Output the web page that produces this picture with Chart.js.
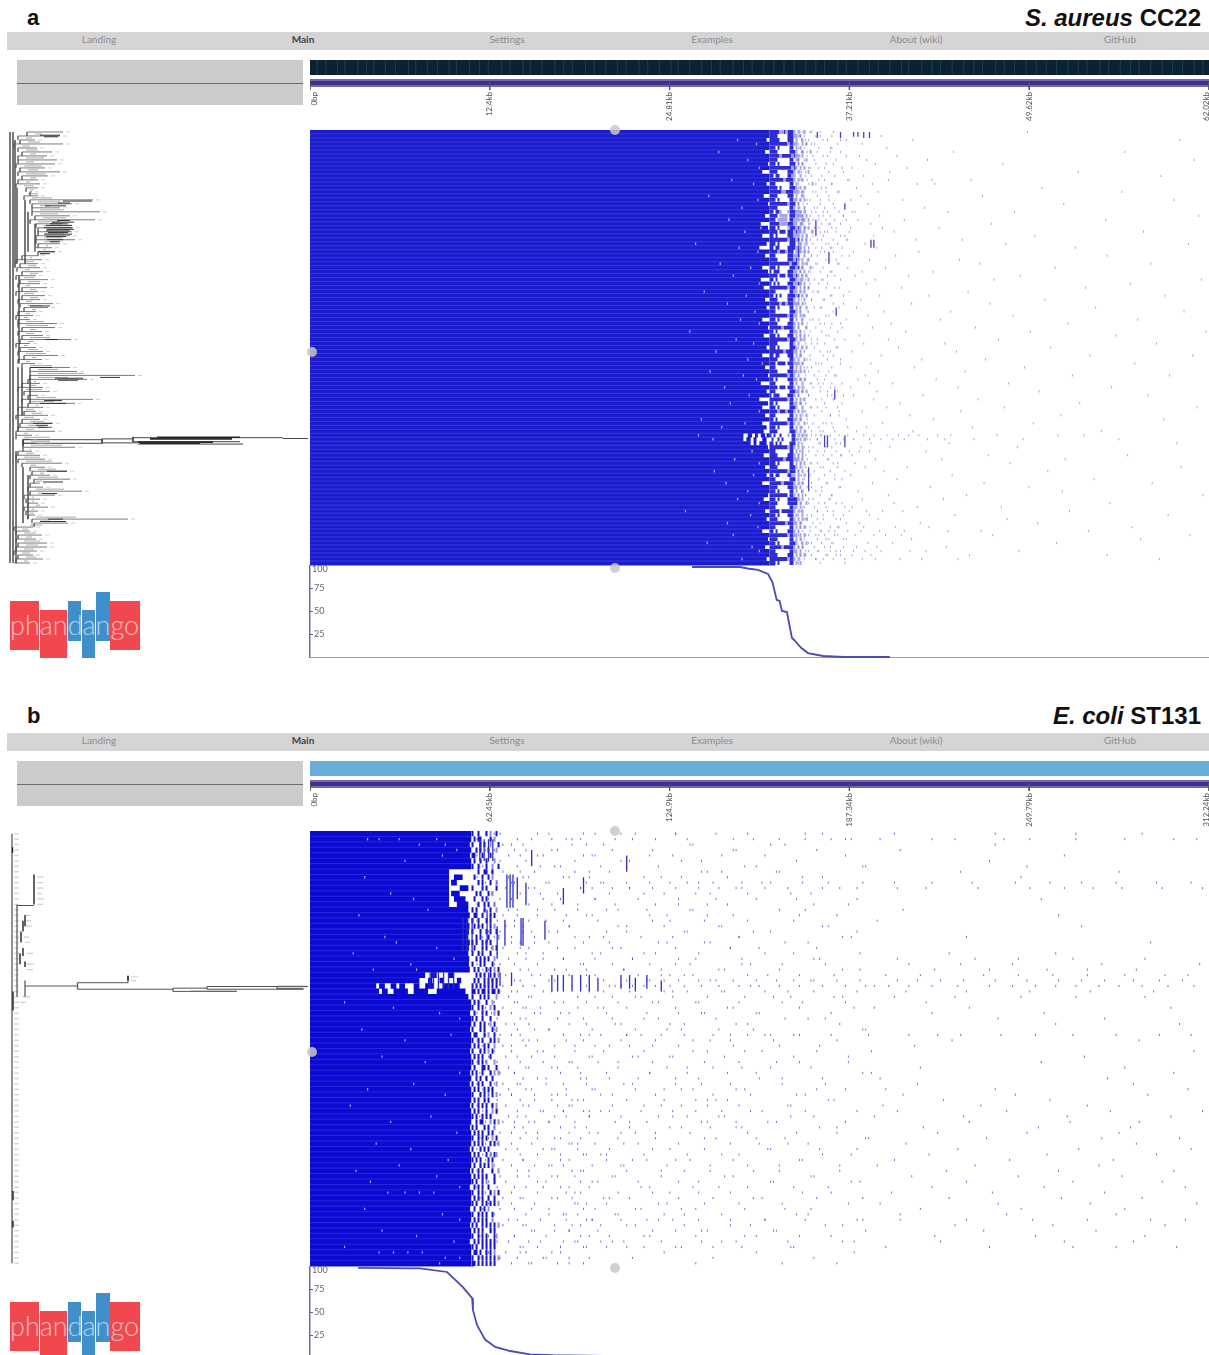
<!DOCTYPE html>
<html>
<head>
<meta charset="utf-8">
<title>phandango</title>
<script src="https://cdn.jsdelivr.net/npm/chart.js@4"></script>
<style>
html, body { margin: 0; padding: 0; background: #fff; }
body { position: relative; width: 1209px; height: 1355px; overflow: hidden; font-family: Lato, sans-serif; }
canvas { position: absolute; }
.box, .txt, .dot { position: absolute; }
.navtxt { font-size: 10px; color: #8c8c8c; transform: translateX(-50%); white-space: nowrap; }
.head { font-family: "Liberation Sans", Arial, sans-serif; font-weight: bold; color: #111; white-space: nowrap; }
.dot { width: 10px; height: 10px; border-radius: 50%; background: rgba(200,200,200,.85); }
.logo { font-weight: 300; font-size: 27px; color: rgba(255,255,255,.62); white-space: nowrap; }
</style>
</head>
<body>
<script>
// --- navigation and labels ---
const navLabels = ["Landing", "Main", "Settings", "Examples", "About (wiki)", "GitHub"];
const coverageTicks = [25, 50, 75];
const coverageTop = [100];

// --- panel a : S. aureus CC22 ---
const genomeKbA = 62.02;
const tickValuesA = [0, 12.4, 24.81, 37.21, 49.62, 62.02];
const tickLabelsA = ["0bp", "12.4kb", "24.81kb", "37.21kb", "49.62kb", "62.02kb"];
const geneEdgesA = [0.5,1.1,1.9,2.4,3.3,3.9,4.4,5.2,5.9,6.8,7.3,8.1,8.8,9.6,10.1,11,11.7,12.3,13.2,13.8,14.7,15.2,16,16.9,17.5,18.1,19,19.6,20.4,21.2,21.8,22.7,23.3,24.1,24.9,25.4,26.2,27,27.7,28.3,29.2,29.9,30.5,31.3,32,32.7,33.4,34.2,34.9,35.5,36.4,37,37.8,38.6,39.2,40,40.8,41.3,42.2,42.9,43.5,44.3,45.1,45.8,46.4,47.3,47.9,48.6,49.4,50.1,50.8,51.5,52.3,53,53.6,54.5,55.1,55.9,56.6,57.2,58,58.8,59.5,60.2,61,61.6];

const coverageKbA = [26.35,29.67,30.2,30.9,31.6,31.9,32.2,32.4,32.56,32.9,33.25,33.4,33.9,34.35,35.4,36.8,40];
const coveragePctA = [97.8,97.8,96.2,94.6,90.2,81.5,62,60.9,50,48.9,20.7,18.5,9.8,4.3,1.1,0,0];

// where the solid block stops on each row
const coreEndA = [31.7,31.7,31.5,31.7,31.7,31.4,31.7,31.7,31.6,31.7,31.2,31.7,31.7,31.5,31.7,31.7,31.3,31.7,31.6,31.7,31.7,31.4,31.7,31.1,31.6,31.7,31.2,31.7,31.5,31,31.7,31.4,31.7,31.7,31.2,31.6,31.7,31.1,31.7,31.3,31.7,31.7,31.4,31.7,31.5,31.7,31.7,31.2,31.7,31.6,31.7,31.3,31.7,31.7,31.5,31.7,31.2,31.7,31.7,31.4,31.7,31.6,31.7,31.1,31.7,31.5,31.7,31,31.6,31.2,31.7,31.4,31.7,31.2,31.5,31.3,29.9,29.9,30.4,31.6,31.7,31.3,31.7,31.7,31.4,31.7,31.5,31.7,31.2,31.7,31.7,31.6,31.3,31.7,31.7,31.4,31.7,31.5,31.7,31.7,31.2,31.7,31.6,31.7,31.4,31.7,31.7,31.5,31.7];

// presence matrix at the right edge of the block, one string per row, # full, + partial
const fringeStartA = 31.7;
const fringeStepA = 0.138;
const fringeA = [
"#####++#+###+.+..+....","####.....###++.+......","#####....###.+..+.....","#########+##++..+.+...",
"###.#.....##.+.+......","####......###+..+...+.","#####+#####+#++.+.....","####......##.++...+...",
"###.#.....###.+.+.....","###########+#+.+.+....","####.....###+.+....+..","##.##....##++..+......",
"#######+####+.+.+.....","###.......##.+.......+","####.#....###+.+.+....","######++####+++.+.....",
"####.....###.+..+.....","###.#.....##++.+.+....","#########+###.+.......","####......##+.+..+....",
"##.##+...+###+++.+....","####.++++.###++++.+...","###.+++++.##+++.++.+..","#####++++###++.++.....",
"###.#....+###+#+.+.+..","####.###.###+#++.+...+","##.#.....###+++.+.+...","#########+###+#.+.+...",
"###.#.....###.++..+...","##.##....####+#+.+....","####+###+###.+#+.+.+..","###......###++#..+....",
"####.....###+#+.+..+..","##########+###+.+.+...","###.#.....###+#.+...+.","#.###....###++.+.+....",
"####.###.###+#+.+.+...","##.#......###+.++..+..","#.#.#....###++#+.+....","#########+###+.+.+.+..",
"###.......##++.+.+....","##.#.#...####+#.+.+...","####.....###+.+..+....","#####+##+###+++.+.....",
"###.#.....##.+.+..+...","###.......###+.+......","#########+##++.+.+....","###.#.....##.+..+.....",
"####.....###+.+.+.....","######+#####+.+...+...","##.#......##++.+......","###.#....###.+.+.+....",
"#########+###+.+.+....","####......##+.+.......","###.#.....###+..+.+...","#######+####++.+......",
"##.##....###.+.+......","####......##+.+..+....","###.####.###+++.+.....","###.......##.+.+......",
"####.....###++.+.+....","#########+##+.+.......","##.#.....###++.+.+....","###.......##.+..+.....",
"####.###.###+.+.+.....","###.......###++.+.+...","#.###....###+.+.......","#########+##.+.+.+....",
"##.#......##++.+......","###.#.....###+..+.....","####+###+###+.+.+.....","###.......##.+.+..+...",
"##.#.....###++.+......","#########+##+.+..+....","###.#.....##.+.+......","####......###+.+.+....",
"#.#..#...+.##.+.+.+...",".#..#.#....##+.+.+....","##.#.#....###.+.......","#########+##+.+.+.....",
"###.......##.+..+.....","####.....###+.+.+.....","#######+####+++.+.....","###.#.....##.+.+.+....",
"####......###+.+......","#########+###.+.+.....","##.##....##++.+..+....","###.......###.+.......",
"######+#####+.+.+.....","####.....###++.+......","###.#.....##.+..+.....","#########.##+.+.+.....",
"###.#....#####+.+.....","####.....#####.+..+...","###.......##++.+......","#####.######+.+.+.....",
"###.#....###.+..+.....","####......##+.+.+.+...","########+###++.+......","###.......##.+.+.+....",
"##.#.....###+.+.......","#########+##++.+.+....","####......##.+.+......","###.#.....###+..+.+...",
"######+#####+.+.+.....","###.......##++.+......","####.....###.+.+.+....","#########+##+.+.......",
"###.#.....##.+.+......"
];

// small white gaps inside the block, [kb, row]
const holesA = [[29.5,2],[30.8,3],[28.2,5],[30.2,7],[31,9],[29.1,12],[30.6,13],[27.5,16],[30.9,17],[29.8,19],[28.9,22],[31.1,24],[30,25],[26.6,28],[29.6,29],[30.9,30],[28.3,33],[30.4,34],[29.2,36],[31,38],[27.2,40],[30.1,41],[28.8,43],[30.7,45],[29.7,47],[31,48],[26.2,50],[29.4,52],[30.6,53],[28,55],[30.2,57],[31.2,58],[27.6,60],[29.9,61],[30.8,62],[28.6,64],[30.3,66],[29,68],[31,70],[27,72],[30,73],[28.4,74],[26.8,76],[27.8,77],[30.5,80],[29.3,82],[31,83],[27.9,85],[30.6,86],[28.7,88],[30.2,90],[29.5,92],[31,93],[25.9,95],[30.4,96],[28.8,98],[30.9,99],[29.2,101],[27.4,103],[30.5,104],[31,105],[29.8,107]];
// patches that carry on past a shortened row
const patchesA = [[76,30.2,30.5],[76,30.7,30.9],[76,31.1,31.4],[76,31.5,31.7],[77,30.1,30.4],[77,30.6,30.8],[77,31.2,31.5],[78,30.6,30.8],[78,31,31.5]];
const columnsA = [[35,0,1.5],[36.6,0,1.5],[37.5,0,1.2],[37.8,0,1.2],[38.2,0,1.5],[38.6,0,1.5],[36.9,18,19.5],[38.7,27,29],[38.9,27,29],[36.2,64.5,67],[34.4,84,90],[35.5,76,79],[35.7,76,79],[36.9,76,79],[34.9,22,26],[35.8,30,33],[36.3,44,46]];

// light speckle just past the edge, one list per row
const haloA = [
[34.6,33.8,36.1],[35.2,34.1,33.7],[33.9,35.7,34.4,36.6],[34.8,34.2],[36,33.7,35.1],[34.3,35.9,34],
[33.8,35.4,34.7,37],[36.3,34.1],[34.9,33.7,35.6],[35.1,34.4,36.7],[33.9,34.2,35.8],[34.6,36.2],
[35.5,33.8,34.3,37.2],[34.9,36,33.7],[34.2,35.3],[33.9,34.7,36.4,35.6],[35,34.1],[33.8,35.8,34.5],
[36.1,34.3,33.7,35.2],[34.8,35.5],[33.9,34.2,35.4,36.5,34.9,37.4],[35.1,33.7,36.8,34.5,35.9],[34,36.2,34.7,35.6,33.8,37],[35.3,34.4,33.9,36.6,35.8],
[34.2,36,35.1,33.7,34.8,37.3],[35.7,34,36.3,34.6,35.2],[33.8,34.9,36.9,35.4,34.3],[36.1,35,33.9,34.5,37.1],[34.7,35.6,34.1,36.4,33.7],[35.3,33.9,36.7,34.4,35.9,34.9],
[34.2,36.1,35.5,33.8],[35,34.6,37.2],[33.7,35.8,34.3,36.3],[34.9,36.5,34.1],[35.4,33.9,34.7],[36,34.4,35.2,33.8],
[34.2,35.7],[33.7,34.8,36.6,35.3],[35.1,34.5,33.9],[36.2,34.1,35.6],[34.7,33.8,35],[35.9,34.3,36.8],
[33.9,35.4,34.6],[34.2,36.1,33.7],[35.2,34.8,36.5],[33.8,34.4],[35.6,34,36.3],[34.7,33.9,35.1],
[36,34.3,35.5],[33.7,34.9,36.7],[34.5,35.3,34.1],[35.8,33.8],[34.6,36.2,35,33.9],[34.2,35.5],
[33.7,36.4,34.8],[35.2,34.1,35.9],[34.5,33.9,36.1],[35.7,34.3],[33.8,34.9,35.3,36.6],[34.6,36,34.1],
[35.1,33.7,34.4],[36.3,34.8,35.6],[34.2,33.9,35],[35.4,36.7,34.5],[33.8,34.7,35.9],[35.2,34,36.2],
[34.4,33.7,35.7,36.8],[34.9,36.1],[33.9,35.5,34.2],[36.4,34.6,35],[33.7,35.3,34.1],[34.8,35.9,36.5],
[34.3,33.8],[35.6,34.7,36],[33.9,35.1,34.4,37.1],[36.2,34.2,35.4],[33.5,34.9,34.1,35.3,33.8],[34.5,33.6,35.7,34.2,35],
[33.9,35.2,36.3],[34.7,36,34.1],[35.5,33.8,34.4],[36.6,34.9,33.7],[34.3,35.7],[35,33.9,36.1,34.6],
[34.2,35.4,36.4],[33.7,34.8,35.9],[36.2,34.5,33.9],[35.1,34,36.7],[34.6,33.8,35.6],[35.3,36.5,34.3],
[33.9,34.9],[36,34.2,35.2,33.7],[34.7,35.8,34.4],[35.5,33.9,36.3],[34.1,36.9,34.8],[33.8,35,35.7],
[36.1,34.6,33.7],[34.3,35.4,36.6,35],[33.9,34.7,37],[35.9,34.2,36.4,34.9,33.8],[34.5,35.2,35.8],[36.2,33.7,34.4,35.5,34.9],
[34.1,35.6,36.8,35],[33.9,36,34.6,35.3],[34.8,33.7,35.9],[36.3,34.4,35.1],[34.2,35.7,33.8,36.6],[35.4,34.9,36.1,34.1],
[33.7,35.2,36.9]
];
// sparse marks further along the genome, one list per row
const sparseA = [
[34,34.5,35.2,49.5],[33.8,34.9,36,39.4],[34.2,35.4,37,41.6,60],[33.7,34.6,36.4,38.1],[34.1,35.9,39.8],[33.9,35,36.6,44.4,56.2],
[34.3,35.7,37.9,40.5],[33.7,34.8,38.4,42.6,61],[34,36.1,39,47.8],[34.5,35.5,37.4,41.2],[33.8,36.8,40,53],[34.2,35.3,38.2,58.7],
[33.9,35.1,37.1,39.9,42.9,45.6],[34.4,36,38.8,41.9,43.1],[33.7,35.6,37.7,50.5],[34.1,34.9,36.5,39.2,56],[33.9,35.8,38,46.4],[34.3,35.2,37.3,40.9,59.6],
[34,36.9,38.5,52],[33.8,35,36.2,42.4],[34.6,35.7,37.6,44,48.6],[34,35.4,36.8,39.3,61.3],[33.9,35.1,37.8,41,54.9],[34.5,35.9,38.7,47],
[34.1,36.3,39.5,43.4],[33.8,35.5,37.2,40.3,57.5],[34.7,36.6,38.9,50],[34.2,35.3,37,41.8,45],[33.9,35.8,38.3,48,60.6],[34.4,36,39.1,52.8],
[34,35.2,37.5,42],[34.6,36.7,40.4,55],[33.8,35.6,38.6,44.8],[34.3,35,36.4,46.2,58],[34,37.1,39.7,51.4],[34.5,35.9,38.1,43],
[33.9,36.2,37.6,41.3,49],[34.2,35.4,39,47.2,61.5],[33.8,35.7,38.4,56.6],[34.4,36.5,40.8,53.5],[34,35.1,37.2,45.4],[33.9,36,39.3,42.7,59],
[34.6,35.5,38,50.7],[34.1,36.8,41.5,46.9],[33.8,35.3,37.7,54.2],[34.3,36.1,39.6,44.2,60.3],[34,35.8,38.5,48.5],[34.5,37,43.5,57.1],
[33.9,35.2,36.6,40.1,52.3],[34.2,35.9,38.8,45.9],[33.8,36.4,41.1,49.7,61.8],[34.4,35.6,37.9,55.6],[34,36.9,39.9,47.5],[34.6,35,38.2,43.8,58.4],
[33.9,36.3,40.6,51.1],[34.1,35.7,37.4,44.6],[33.8,35.4,39.4,53.8,60.9],[34.5,36.6,42.2,46.6],[34,35.1,38.7,56.9],[34.3,37.3,41.7,49.3],
[33.9,35.8,39.2,45.2],[34.2,36.2,38.3,52.6,59.3],[33.8,35.5,37.8,43.2],[34.6,35.1,36,38.6,40.2,48.2],[34.1,35.2,36.2,37.3,44.7,55.3],[33.9,35.7,36.4,39.1,50.3],
[34.4,36,37.5,42.3,57.8],[34,35.3,38.9,46.1],[33.8,36.7,40.7,53.1],[34.5,35.6,39.8,47.9,61.2],[34.2,36.5,38.1,44.9],[34,35.9,41.4,51.8],
[33.9,37,43,58.9],[34.3,35.4,39.5,49.9],[34,36.1,38.4,45.7],[34.6,35.2,37.7,41.6,54.6],
[33.4,34,34.6,35.2,35.9,36.5,37.1,38.2,38.9,39.8,40.6,41.3,42,43.3,44.2,47.4,51.6,53.4],[33.7,34.3,35,35.5,36.2,36.8,37.5,38.6,39.4,40.2,41,42.6,43.8,45.8,49.2,55.8],
[34,35.1,36.6,38.7,44.1,59.8],[34.4,35.6,38,40,48.8],[33.8,35,36.3,37.2,37.9,38.6,42.5],[34.2,35.4,36,36.7,37.4,46.8,56.4],
[33.9,35.8,39,43.6,52.1],[34.5,36.4,37.6,48.3],[34,35.2,38.3,41.2,60.1],[34.3,36.9,39.6,50.9],[33.8,35.5,37.3,44.3],[34.1,36.2,40.5,54.1],
[34,35.7,38.8,46.5,58.1],[34.6,36.6,42.8,49.6],[33.9,35.3,37.8,51.9],[34.2,36,39.9,45.3,61.6],[33.8,35.9,38.1,43.7],[34.4,35.1,36.7,40.3,55.2],
[34,35.6,37.4,41.9,47.7],[33.9,35,36.1,37.2,38.4,39.5,40.9,52.4],[34.3,35.4,36.8,38.6,44.5,59.2],[34.1,36.3,39.2,48.1],[33.8,35.2,37.9,42.1,50.2],[34.5,36.5,38.2,40.4,42.7,56.7],
[34,35.3,36.2,37.1,38,39.3,41,44,46.3,53.7],[34.2,35.1,36.4,37.6,38.9,39.7,40.8,47.1,60.7],[33.9,35.8,37,41.5,57.3],[34.4,36.1,38.5,40.2,51.5],[34,35.5,36.8,37.7,39.1,43.9],[34.2,35,35.9,36.6,37.5,38.3,39.4,41.4,42.5,48.9],
[34.6,35.6,36.3,37.4,38.7,45.5,55],[33.8,34.9,36.9,38.1,39,40.7,42.2,44.7,58.6]
];

// tree tips, distance from the left of the tree panel, one per row
const tipStartA = [27,18,20,14,18,22,18,18,16,20,18,22,18,16,26,30,24,30,32,32,32,35,30,36,38,38,36,36,38,35,38,22,16,20,17,22,16,20,18,22,16,22,18,20,24,18,16,18,18,22,18,22,20,16,20,18,24,18,22,30,30,30,28,22,18,24,28,22,28,18,24,16,22,20,18,16,16,23,23,23,18,16,18,22,30,32,30,34,30,28,30,24,26,28,24,26,28,32,34,14,16,18,16,18,16,14,18,16,14];
const tipEndA = [63,60,35,63,37,52,47,57,55,45,60,48,38,40,38,32,38,93,72,60,100,70,95,62,73,72,70,75,60,52,55,38,42,38,40,43,36,48,40,47,38,45,40,53,48,36,33,30,57,55,42,43,71,30,36,43,58,42,35,70,77,135,87,40,43,50,38,93,75,43,36,48,40,53,45,55,32,30,36,75,32,40,45,62,45,67,50,70,40,43,82,55,40,38,48,38,35,128,68,33,30,42,36,47,47,37,33,43,30];
// side branches sitting between the rows
const tipMidEndA = [42,32,40,30,38,36,44,34,42,38,46,36,30,34,30,28,52,60,50,64,58,66,60,70,68,64,62,58,48,46,40,32,34,36,30,38,34,40,30,36,34,38,32,42,36,30,28,44,48,36,34,50,34,28,38,46,36,30,52,58,84,68,34,36,42,32,56,54,38,34,42,34,44,36,34,28,50,50,62,30,34,40,52,36,56,44,58,36,38,64,44,34,32,40,34,30,76,50,30,28,36,32,40,38,34,30,36,28];
// darker, densely overplotted runs of branches, [row, from, to]
const denseA = [[0.8,40,60],[1.2,44,58],[17.3,63,92],[17.8,58,70],[18.5,45,66],[22.2,57,70],[22.6,52,74],[23,50,68],[23.4,46,72],[24,44,72],[24.4,47,74],[24.8,46,70],[25.2,48,68],[25.6,44,72],[26.2,46,66],[27,47,63],[27.5,50,60],[30,38,55],[30.5,40,50],[43.6,30,50],[52,45,58],[59,30,52],[61.5,100,120],[61.7,55,83],[62.2,58,78],[67.3,44,62],[68,40,66],[73,33,52],[73.5,36,48],[74,38,52],[85,47,67],[87.7,43,63],[90.6,42,57],[97,48,63],[97.6,40,66]];
const cladesA = [[10,0,108],[13,0,108],[15,2,34],[17,14,33],[25,17,33],[28,20,30],[35,23,29],[19,36,58],[18,59,75],[22,59,71],[30,61,68],[16,80,108],[23,84,98],[28,86,97]];
const longBranchA = [[77.1,23,102],[78,23,102],[76.9,102,133],[77.9,102,138],[76.6,133,283],[76.8,283,308],[77.6,133,240],[78.2,138,243]];
const longDenseA = [[76.5,157,240],[76.9,150,232],[77.7,138,213],[78,140,200]];
const longCladesA = [[23,77.1,78.6],[102,76.9,78],[133,76.4,77.7]];

// --- panel b : E. coli ST131 ---
const genomeKbB = 312.24;
const tickValuesB = [0, 62.45, 124.9, 187.34, 249.79, 312.24];
const tickLabelsB = ["0bp", "62.45kb", "124.9kb", "187.34kb", "249.79kb", "312.24kb"];

const coverageKbB = [16.7,38.2,47.6,53.1,56.3,56.6,58,60.8,64.3,69.5,76.4,84.4,107.7,146];
const coveragePctB = [98,97.5,93.5,77,65,52,36,20,12,7.6,4,3,2,1.5];

const coreEndB = [56,56,55.5,56,55.6,56,56,48.3,48.3,48.3,48.3,48.3,48.3,48.3,55,55.5,55,55.4,55.2,55,55.5,55.2,55,55.3,55.2,55.5,40,38,23,24,55,56,56,55.6,56,56,55.6,56,56,56,55.6,56,56,56,55.6,56,55.5,56,56,56,55.6,56,56,56,55.6,56,56,56,55.5,56,56,56,55.6,56,56,55.5,56,56,56,55.6,56,56,55.6,56,56,55.5,56,56,56,56];
const fringeStartB = 56.1;
const fringeStepB = 0.695;
const fringeB = [
"#..#...#.+..#.",".#.##....#.+..","#...#.#..+...#","..#.#...#...+.","##...#...#....",".#..#..#...+..",
"#..#...#..+..#","...#..##..#...",".#...#..#.+...","...#.#...#..+.","#....#.#....#.","..#.#...#.+...",".#...#.#......","...#..#.#..+..",
"#.#...#..#..+.",".##..#...#.#..","#..#...#.#....",".#.#.#...#.+..","#...#..#.#..#.","..#.#...#....+","#.#..#.#.#....",".#...#.#..+.#.","#..#.#...#....","..#.#.#.#..+..",
"#...#.#...#...",".#.#...#.#.+.#","..#.#.#..#.#.+",".#.#..#.#.#.#.","#.#.#.#.#.#.#.","##.#.##.#.##.#",
"#...#.#.#...+.",".#.#...#..+...","#..#.#...+.#..",".#...#.#...+.#","#.#..#...#....",".#..#.#..+.#..",
"#...#.#...#.+.",".##...#.+..#..","#..#.#...#.#.+",".#.#..#.#..+..","#...#.#.+.#...",".#.#.#...#....",
"#..#.#.+...+..",".#...##.#...#.","#.#..#...#.+.+","..#.#..#..#...","#..#.#...#..+.",".#.#..#.#.#...",
"#...#.#.+.#.+.",".#.#..#.#.....","#..#.#.#..#.+.",".#.#...#..+.#.","#.#..#.#.#....","..#.##...+.#.+",
"#.#...#.#..+..",".#.#.#..#.#...","#..#.#.#..+.#.",".#.#.#...#.#.+","#...#.#.#.....",".#.#...#.+.#+.",
"#.#.#...#.#...",".#..#.#.#.+...","#..#.#....#..+",".#.#.#.#...#..","#.#..#.+...#..",".#.#.#..#.....",
"#..#.#...#.+.#",".#.#.#..#..#..","#.#..#.#.#.#.+",".#..#.#.+.....","#..#.#.#..#...",".#.#.#.#..+...",
"#.#..#.#.#.#.+",".#.#.#...#.#..","#..#.#.#...#+.",".#.#.#.#.#.#..","#.#..#.#.#.#..",".##.#..#.#.+..","#..#.#.#.#.#.+","##.#.#.#.#.#.."
];
const holesB = [[20,1],[24,1],[31,1],[38,2],[44,1],[47,2],[51,3],[33,5],[19,8],[46,4],[28,11],[36,12],[17,15],[41,14],[26,19],[30,20],[44,21],[15,22],[35,24],[50,23],[22,25],[37,25],[48,26],[12,31],[29,32],[45,33],[52,34],[18,36],[33,38],[49,37],[25,41],[40,42],[52,44],[20,47],[36,46],[47,48],[14,50],[28,53],[42,52],[51,55],[23,57],[35,58],[48,60],[16,62],[31,61],[44,63],[52,65],[21,64],[27,66],[33,66],[38,66],[43,66],[19,69],[46,70],[52,71],[25,73],[37,74],[50,75],[12,76],[24,77],[29,77],[34,77],[39,77],[47,78],[52,78],[45,79]];
const patchesB = [[28,24,26],[28,28,30],[28,31,33],[28,36,38],[28,40,43],[28,46,52],[29,25,27],[29,29,34],[29,36,41],[29,44,54],[26,42,44],[27,41,42.5],[27,45,46.5],[26,48,50],[27,51,52.5],[8,50,53],[9,49,51],[10,52,55],[11,49,52],[12,50,54],[13,51,55]];
const columnsB = [[68.4,7.5,13.6],[69.5,7.5,13.6],[70.5,7.5,13.6],[67.7,15.8,20.6],[73.3,15.5,20.6],[74,15.5,20.6],[65,17,23],[54.5,15.5,21.7],[53.1,15.5,21.7],[56.3,15.5,21.7],[61.5,14,20],[59,1,5],[60.5,1,5],[62,1,5],[63.5,1,5],[81.6,16,19.5],[41.7,25.5,28.5],[42.9,25.5,28.5],[44.6,25.5,28.5],[46.4,25.5,28.5],[48.1,25.5,28.5],[49.9,25.5,28.5],[62,25.5,28],[66,25.5,28],[70,25.5,28],[84,26,29],[86,26,29],[88,26,29],[91,26,29],[94,26,29],[97,26,29],[100,26.5,29],[108,26,28.5],[111,26,28.5],[117,26,28.5],[113,26.5,29],[122,27,29],[72,8,12],[75,9,13],[77,3,6],[88,10,13],[95,8,11],[110,4,7]];

// denser dots close to the edge
const haloB = [
[61,66,64,79],[63,58,72,84,91],[59,70,67],[64,75,61,86],[58,69,81,73,95],[62,66,77],
[60,72,85,59],[67,63,78,92],[58,74,69,88],[65,61,83,71],[60,76,94,68],[59,63,80,73],
[66,62,70,87],[58,75,84,64],[61,69,79,93],[63,72,60,89,67],[65,58,76,82],[59,71,68,90],
[62,74,86,66],[60,64,78,97],[58,70,83,73,61],[67,63,92,76],[59,65,81,72],[61,69,88,75],
[64,58,79,95,66],[60,73,85,62],[68,59,77,90],[63,71,83,65],[58,61,74,67,88],[60,66,72,81],
[62,69,93,76],[59,64,85,71],[61,75,80,67],[58,63,78,90,70],[65,60,86,73],[62,68,76,96],
[59,72,83,64],[61,70,88,66],[58,74,79,63],[67,60,92,75],[64,59,81,70],[62,77,85,68],
[58,65,73,91,61],[60,69,84,76],[63,59,71,87,66],[61,79,74,94],[58,67,64,82,72],[60,75,89,69,63],
[62,59,70,78,86,66],[65,61,73,84,93],[58,68,76,90,63],[60,72,81,65,88],[63,59,75,69,97],[61,67,83,71,78],
[58,64,74,87],[60,70,79,66],[62,59,85,73],[65,77,91,61],[58,68,72,84],[60,63,79,95],
[61,74,67,87],[59,70,83,64],[63,58,76,91],[60,72,66,86],[62,79,68,94],[58,65,75,81],
[61,70,89,63],[59,73,84,67],[62,58,78,92],[60,66,71,83],[64,75,59,88],[61,69,80,96],
[58,67,74,85],[60,63,77,90],[62,71,59,82],[65,60,69,93,76],[58,64,73,87,79],[61,68,84,62,75],[59,66,72,90,81],[63,60,70,77,86,95]
];
// second band of dots, thinning out to the middle of the genome
const midB = [
[83,127,95,141,172],[77,112,154,89,181],[91,74,133,165,102],[84,119,147,71,176],[98,126,79,158,186],[75,108,136,92,169],
[87,121,80,151,193],[73,104,143,97,162],[90,129,76,116,178],[82,135,101,157,70],[94,111,78,148,184],[72,123,86,167,139],
[99,81,114,155,190],[76,128,93,145,175],[85,107,72,163,132],[79,138,96,118,170],[88,71,125,152,197],[74,110,90,143,180],
[83,131,77,160,103],[92,115,70,149,188],[78,124,95,137,173],[86,105,73,156,146],[75,120,98,168,191],[81,134,88,112,177],
[71,127,94,150,164],[89,109,76,142,185],[96,122,80,159,130],[73,139,85,117,174],[91,106,78,153,196],[84,126,70,144,166],
[77,113,99,161,182],[88,135,72,121,171],[74,102,93,147,189],[80,128,87,155,137],[95,116,75,165,179],[71,130,90,108,152],
[83,142,78,124,192],[97,110,73,158,168],[76,133,89,146,183],[85,119,70,163,104],[79,138,92,151,176],[72,125,98,114,187],
[90,107,81,149,170],[75,131,86,160,140],[94,118,71,145,195],[82,127,96,156,178],[73,112,88,164,136],[99,123,77,148,186],
[84,105,70,153,172],[78,134,91,141,180],[86,116,74,167,129],[95,101,80,157,190],[72,126,89,144,175],[83,111,76,162,138],
[92,129,71,150,183],[75,120,97,108,169],[87,137,79,155,193],[70,114,93,146,166],[81,125,85,159,177],[96,103,73,143,188],
[74,132,90,117,171],[88,109,78,152,184],[72,139,94,122,163],[84,106,76,147,174],[98,128,82,160,191],[71,115,87,142,168],
[79,135,92,119,181],[86,104,74,154,176],[93,124,70,149,187],[77,113,95,165,134],[83,130,89,107,173],[72,121,98,158,192],
[91,110,75,146,179],[78,136,85,161,127],[94,118,71,151,170],[80,105,88,143,185],[74,129,96,116,167],[87,123,73,155,189],[97,112,82,140,175],[76,134,90,164,183]
];
const sparseB = [
[108,99,127,113,152,178,203,238,266,289],[106,94,120,131,147,163,172,186,188,198,216,224,241,250,266,283,300,308],
[96,132,160,238],[148,105,205],[118,143,99,262],[129,111,236],
[155,101,192,249],[136,138,163,226,281],[122,145,171,97,247],
[102,96,110,118,125,131,140,150,160,171,180,192,203,216,230,245,257,268,280,294,306],[105,98,111,119,127,135,142,150,158,166,178,190,204,214,232,250,262,272,282,296,310],
[116,104,134,152,174],[128,141,99,169,254],[106,138,120,187],[103,133,117,172,206],
[124,98,147,183,260],[119,100,137,168],[142,107,123,178,268],[130,110,154,190],
[102,149,126,185,228],[121,104,139,165,292],[146,108,176,127],[116,101,135,158,222,259],
[112,99,128,150,175,204,231,265,290,246],[105,118,132,153,179,208,244,275,309,226],[109,96,144,122,163,191,217,256,287,236,270],
[125,99,133,152,170,182,212,234,258,283,305,114,200,246,270,297],[102,97,110,118,128,135,141,147,155,162,168,183,191,204,211,227,238,249,268,276,286,295,303,123,175,219,260],
[96,104,108,112,116,120,125,130,136,142,149,156,163,170,178,186,193,201,208,216,225,236,244,252,259,266,274,281,289,298,307],[102,111,123,131,143,158,175,190,207,228,250,271,293,97],
[105,115,126,138,151,167,185,203,224,247,266,290],[107,96,119,134,149,164,214,186],[110,100,127,145,170,196,229,299],
[103,117,136,156,181,216,255],[121,105,141,173,239,276],[106,125,148,184,259,302],[113,129,98,154,193],
[101,94,110,115,122,130,140,146,152,160,170,181,194,208,218,226,240,252,265,280,295,306],[108,120,95,139,161,223,288],
[111,99,128,147,177,210],[116,102,133,157,195,307],[112,126,97,144,168,269],[119,100,137,162,187,254],
[107,124,93,150,174,212,283],[118,103,131,155,192,300],[114,104,135,164,198,277],[109,96,127,146,179,211,286],
[98,113,129,151,176,200,238,305,133],[101,120,140,169,206,245,89,291],[110,95,123,145,182,220,257,138],[122,105,91,166,138,199,233,270,149],
[115,104,126,134,143,153,172,204,242,278,310,88,97],[121,108,142,97,167,196,227,263,299,131,85],[117,136,106,159,186,229,264,92,288,148],[125,111,96,148,177,213,253,285,139],
[113,100,132,152,183,218,249,90,281],[107,120,141,94,165,194,235,275,302],[109,99,128,156,173,207,287,90],[119,137,104,93,160,190,225,267,306],
[101,116,131,149,87,178,215,256,294],[127,112,103,147,170,203,243,279],[108,124,98,139,163,197,231,274,84],[130,110,95,154,184,221,260,300],
[105,122,144,92,175,209,246,282],[114,135,100,161,188,228,265,296],[118,97,133,152,180,216,255,304,90],[125,107,94,146,171,202,237,276],
[111,102,128,140,157,192,222,261,289,91],[121,103,137,96,164,198,239,271,308],[115,99,129,151,174,212,247,283],[123,106,93,143,169,205,242,280],
[108,98,117,126,135,146,158,172,190,205,228,251,270,292,304,89],[113,101,130,94,153,185,224,258,297],[100,119,138,162,193,234,273,90],[116,104,134,97,155,181,217,252,290],
[109,101,122,136,148,166,189,219,262,286,92],[103,110,95,127,140,150,168,200,236,265,280,301]
];

// tree b
const treeSegmentsB = [[13.2,17,34],[28,25,77.5],[27.4,77.5,128],[28.6,77.5,173],[28.4,173,207],[29,173,237],[28.1,207,277],[28.6,207,304],[28.1,277,308]];
const treeDenseB = [[28.1,277,307],[28.5,277,303],[29,190,237]];
const treeCladesB = [[12,0,79],[17,13,30],[25,27,30],[77.5,27.4,28.6],[128,26.1,27.4],[173,28.4,29],[207,28.1,28.6],[277,28,28.5]];
const treeDarkB = [[12.5,2.5,3.5],[13,29,32.5],[13,65.7,67.4],[13,71.2,72.4],[34,7.5,13],[25,15,17],[23,16,18],[21,18,20],[23,21,22.5],[20,22,24],[25,23.5,24.5],[128,26.1,27]];
const treeLabelsB = [[8,37,44],[9,37,43],[10,37,44],[11,37,42],[12,37,44],[13,37,43],[15,24,30],[16,25,31],[17,26,32],[19,24,29],[20,25,30],[22,27,33],[24,26,34],[25,27,33],[26.3,131,138],[27,131,136],[30,22,30],[31,20,26]];

// --- helpers ---
function rowSegments(rows) {
  // [row, from, to] to line points with a break after each run
  const pts = [];
  rows.forEach(([r, a, b]) => pts.push({ x: a, y: r }, { x: b, y: r }, { x: null, y: null }));
  return pts;
}

function colSegments(cols) {
  const pts = [];
  cols.forEach(([x, a, b]) => pts.push({ x: x, y: a }, { x: x, y: b }, { x: null, y: null }));
  return pts;
}

function fringeRuns(rows, start, step, ch) {
  const runs = [];
  rows.forEach((str, r) => {
    let i = 0;
    while (i < str.length) {
      if (str[i] !== ch) { i++; continue; }
      let j = i;
      while (j < str.length && str[j] === ch) j++;
      runs.push([r, start + i * step, start + j * step]);
      i = j;
    }
  });
  return runs;
}

function lineSet(data, color, width) {
  return { data, borderColor: color, borderWidth: width, showLine: true, spanGaps: false, pointRadius: 0, tension: 0, borderCapStyle: "butt" };
}

function markSet(data, color, radius, width) {
  return { data, showLine: false, pointStyle: "line", pointRotation: 90, pointRadius: radius, pointBorderWidth: width, pointBorderColor: color, pointBackgroundColor: color };
}

function flatRows(rows) {
  return rows.flatMap((xs, r) => xs.map((x) => ({ x, y: r })));
}

function addCanvas(left, top, width, height) {
  const c = document.createElement("canvas");
  c.width = width;
  c.height = height;
  c.style.left = left + "px";
  c.style.top = top + "px";
  c.style.width = width + "px";
  c.style.height = height + "px";
  document.body.appendChild(c);
  return c;
}

function addBox(left, top, width, height, color) {
  const d = document.createElement("div");
  d.className = "box";
  d.style.cssText = `left:${left}px;top:${top}px;width:${width}px;height:${height}px;background:${color}`;
  document.body.appendChild(d);
}

function addText(html, cls, css) {
  const d = document.createElement("div");
  d.className = "txt " + cls;
  d.style.cssText = css;
  d.innerHTML = html;
  document.body.appendChild(d);
}

function addDot(x, y) {
  const d = document.createElement("div");
  d.className = "dot";
  d.style.left = x - 5 + "px";
  d.style.top = y - 5 + "px";
  document.body.appendChild(d);
}

const baseOptions = { responsive: false, animation: false, events: [], plugins: { legend: { display: false }, tooltip: { enabled: false } } };

function hiddenScale(min, max, reverse) {
  return { type: "linear", display: false, min, max, reverse: !!reverse };
}

// --- chart pieces ---
// datasets are listed bottom layer first, Chart.js paints the first one on top so they get reversed
function drawTracks(dy, kb, tickVals, tickLabels, stripColor, edges) {
  const top = dy + 58;
  const sets = [lineSet([{ x: 0, y: 7.5 }, { x: kb, y: 7.5 }], stripColor, 15)];
  if (edges) sets.push(lineSet(colSegments(edges.map((e) => [e, 0, 15])), "rgba(35,65,80,.45)", 1));
  sets.push(lineSet([{ x: 0, y: 23 }, { x: kb, y: 23 }], "#7566b4", 8));
  sets.push(lineSet([{ x: 0, y: 23 }, { x: kb, y: 23 }], "#3f3088", 4));
  sets.push(lineSet(colSegments(tickVals.map((t) => [t, 22, 30])), "#555", 1));
  const labelSpots = tickVals.slice();
  labelSpots[0] = kb * 0.005;
  labelSpots[5] = kb * 0.997;
  new Chart(addCanvas(300, top, 909, 72), {
    type: "scatter",
    data: { datasets: sets.reverse() },
    options: {
      ...baseOptions,
      layout: { autoPadding: false, padding: { left: 10, top: 2, right: 0, bottom: 0 } },
      scales: {
        y: hiddenScale(0, 30, true),
        x: {
          type: "linear", min: 0, max: kb, position: "bottom",
          border: { display: false }, grid: { display: false, drawTicks: false },
          afterBuildTicks: (s) => { s.ticks = labelSpots.map((v) => ({ value: v })); },
          afterFit: (s) => { s.height = 40; s.paddingLeft = 0; s.paddingRight = 0; },
          ticks: {
            autoSkip: false, minRotation: 90, maxRotation: 90, padding: 2,
            font: { family: "Lato", size: 8 }, color: "#555",
            callback: (v, i) => tickLabels[i],
          },
        },
      },
    },
  });
}

function drawHeat(dy, d) {
  const color = d.color;
  const sets = [
    lineSet(rowSegments(d.coreEnd.map((e, r) => [r, 0, e])), color, d.rowWidth),
    lineSet(rowSegments(d.coreEnd.slice(0, -1).map((e, r) => [r + 0.5, 0, Math.min(e, d.coreEnd[r + 1])])), d.stripe, 1),
    lineSet(rowSegments(fringeRuns(d.fringe, d.fringeStart, d.fringeStep, "#")), d.fringeColor, d.rowWidth - 0.4),
    lineSet(rowSegments(fringeRuns(d.fringe, d.fringeStart, d.fringeStep, "+")), d.light, d.rowWidth - 0.4),
    lineSet(rowSegments(d.patches), color, d.rowWidth),
    markSet(d.holes.map(([x, y]) => ({ x, y })), "rgba(255,255,255,.65)", 1.2, 1.2),
    lineSet(colSegments(d.columns), d.column, 1.3),
    markSet(flatRows(d.halo), d.haloColor, 1.2, 1),
    markSet(flatRows(d.sparse), d.mark, 1.1, 1),
  ];
  if (d.mid) sets.push(markSet(flatRows(d.mid), d.mark, 1.1, 1));
  new Chart(addCanvas(310, dy + 130, 899, d.height), {
    type: "scatter",
    data: { datasets: sets.reverse() },
    options: { ...baseOptions, layout: { autoPadding: false, padding: 0 }, scales: { x: hiddenScale(0, d.kb), y: hiddenScale(-0.5, d.fringe.length - 0.5, true) } },
  });
}

function drawCoverage(top, kb, xs, ys) {
  const pts = xs.map((x, i) => ({ x, y: ys[i] }));
  const sideTicks = (vals, extra) => ({
    type: "linear", min: 0, max: 100, position: "left",
    afterBuildTicks: (s) => { s.ticks = vals.map((v) => ({ value: v })); },
    afterFit: (s) => { s.width = 0; s.paddingTop = 0; s.paddingBottom = 0; },
    ...extra,
  });
  new Chart(addCanvas(309, top, 900, 94), {
    type: "scatter",
    data: { datasets: [{ ...lineSet(pts, "#4a4ab8", 1.8), clip: false }] },
    options: {
      ...baseOptions,
      layout: { autoPadding: false, padding: { left: 1, top: 0, right: 0, bottom: 2 } },
      scales: {
        x: {
          type: "linear", min: 0, max: kb, position: "bottom",
          grid: { display: false }, ticks: { display: false },
          border: { color: "#a0a0a0", width: 1 },
          afterFit: (s) => { s.height = 0; s.paddingLeft = 0; s.paddingRight = 0; },
        },
        y: sideTicks(coverageTicks, {
          border: { color: "#6a6ab0", width: 1.5 },
          grid: { drawOnChartArea: false, tickLength: -3, color: "#666" },
          ticks: { mirror: true, padding: 4, font: { family: "Lato", size: 9 }, color: "#666" },
        }),
        y100: sideTicks(coverageTop, {
          border: { display: false },
          grid: { display: false },
          ticks: { mirror: true, padding: 2, labelOffset: 4, font: { family: "Lato", size: 9 }, color: "#666" },
        }),
      },
    },
  });
}

function drawTree(dy, height, rowCount, sets) {
  new Chart(addCanvas(0, dy + 130, 310, height), {
    type: "scatter",
    data: { datasets: sets.reverse() },
    options: { ...baseOptions, layout: { autoPadding: false, padding: 0 }, scales: { x: hiddenScale(0, 310), y: hiddenScale(-0.5, rowCount - 0.5, true) } },
  });
}

function drawChrome(dy, headDy, letter, title) {
  addText(letter, "head", `left:27px;top:${headDy + 5}px;font-size:22px`);
  addText(title, "head", `right:8px;top:${headDy + 4}px;font-size:24px`);
  addBox(7, dy + 32, 1202, 18, "#d5d5d5");
  const spots = [99, 303, 507, 712, 916, 1120];
  navLabels.forEach((t, i) => {
    const bold = t === "Main" ? "font-weight:700;color:#444;" : "";
    addText(t, "navtxt", `left:${spots[i]}px;top:${dy + 33}px;${bold}`);
  });
  addBox(17, dy + 60, 286, 45, "#cbcbcb");
  addBox(17, dy + 82.5, 286, 1.2, "#6e6e6e");
  // logo
  addBox(10, dy + 601, 29, 49, "#f0484e");
  addBox(40, dy + 610, 27, 48, "#f0484e");
  addBox(67.5, dy + 601, 13.5, 40, "#3f8fcb");
  addBox(82, dy + 610, 13, 48, "#3f8fcb");
  addBox(96, dy + 592, 14, 49, "#3f8fcb");
  addBox(110, dy + 601, 30, 49, "#f0484e");
  addText("phandango", "logo", `left:10px;top:${dy + 608}px`);
}

// --- panel a ---
drawChrome(0, 0, "a", "<i>S. aureus</i> CC22");
drawTracks(0, genomeKbA, tickValuesA, tickLabelsA, "#0c2230", geneEdgesA);
addBox(310, 565, 465, 1, "#8f8fe6");
drawHeat(0, {
  kb: genomeKbA, height: 435, rowWidth: 4.2, color: "#1c1ccf", stripe: "rgba(95,95,235,.45)", fringeColor: "#2d2dd3", light: "#a4a4ec", column: "#4444c8", mark: "rgba(80,80,205,.5)", haloColor: "rgba(90,90,215,.55)",
  coreEnd: coreEndA, fringe: fringeA, fringeStart: fringeStartA, fringeStep: fringeStepA,
  patches: patchesA, holes: holesA, columns: columnsA, sparse: sparseA, halo: haloA,
});
drawCoverage(565, genomeKbA, coverageKbA, coveragePctA);
const tipRowsA = tipEndA.map((e, r) => [r, tipStartA[r], e]);
const tipMidRowsA = tipMidEndA.map((e, r) => [r + 0.5, tipStartA[r] + 8, e]);
drawTree(0, 435, tipEndA.length, [
  lineSet(colSegments(tipStartA.slice(0, -1).map((x, r) => [x, r, r + 1])), "#555", 0.6),
  lineSet(colSegments(cladesA), "#555", 0.8),
  lineSet(rowSegments(tipRowsA), "#444", 0.7),
  lineSet(rowSegments(tipMidRowsA), "#555", 0.5),
  lineSet(rowSegments(longBranchA), "#444", 1),
  lineSet(colSegments(longCladesA), "#444", 1),
  lineSet(rowSegments(denseA), "#333", 1),
  lineSet(rowSegments(longDenseA), "#2a2a2a", 1.6),
  lineSet(rowSegments(tipEndA.map((e, r) => [r, e + 3, e + 7])), "rgba(180,180,180,.6)", 1),
]);

// --- panel b ---
drawChrome(701, 698, "b", "<i>E. coli</i> ST131");
drawTracks(701, genomeKbB, tickValuesB, tickLabelsB, "#6badd9", null);
addBox(310, 1266, 164, 1, "#8f8fe6");
drawHeat(701, {
  kb: genomeKbB, height: 435, rowWidth: 5.6, color: "#0a0ad2", stripe: "rgba(75,75,235,.45)", fringeColor: "#1414d0", light: "#8d8de8", column: "#2c2cc8", mark: "rgba(60,60,195,.7)", haloColor: "rgba(50,50,200,.7)",
  coreEnd: coreEndB, fringe: fringeB, fringeStart: fringeStartB, fringeStep: fringeStepB,
  patches: patchesB, holes: holesB, columns: columnsB, sparse: sparseB, halo: haloB, mid: midB,
});
drawCoverage(1266, genomeKbB, coverageKbB, coveragePctB);
drawTree(701, 435, fringeB.length, [
  lineSet(rowSegments(fringeB.map((s, r) => [r, 14, 19])), "rgba(190,190,190,.6)", 1.5),
  lineSet(rowSegments(treeLabelsB), "rgba(185,185,185,.65)", 1.2),
  lineSet(colSegments(treeCladesB), "#666", 1.4),
  lineSet(colSegments(treeDarkB), "#222", 1.4),
  lineSet(rowSegments(treeSegmentsB), "#555", 1),
  lineSet(rowSegments(treeDenseB), "#666", 1.4),
]);

// grey handles
addDot(615, 130); addDot(312, 352); addDot(615, 568);
addDot(615, 831); addDot(312, 1052); addDot(615, 1268);
</script>
</body>
</html>
